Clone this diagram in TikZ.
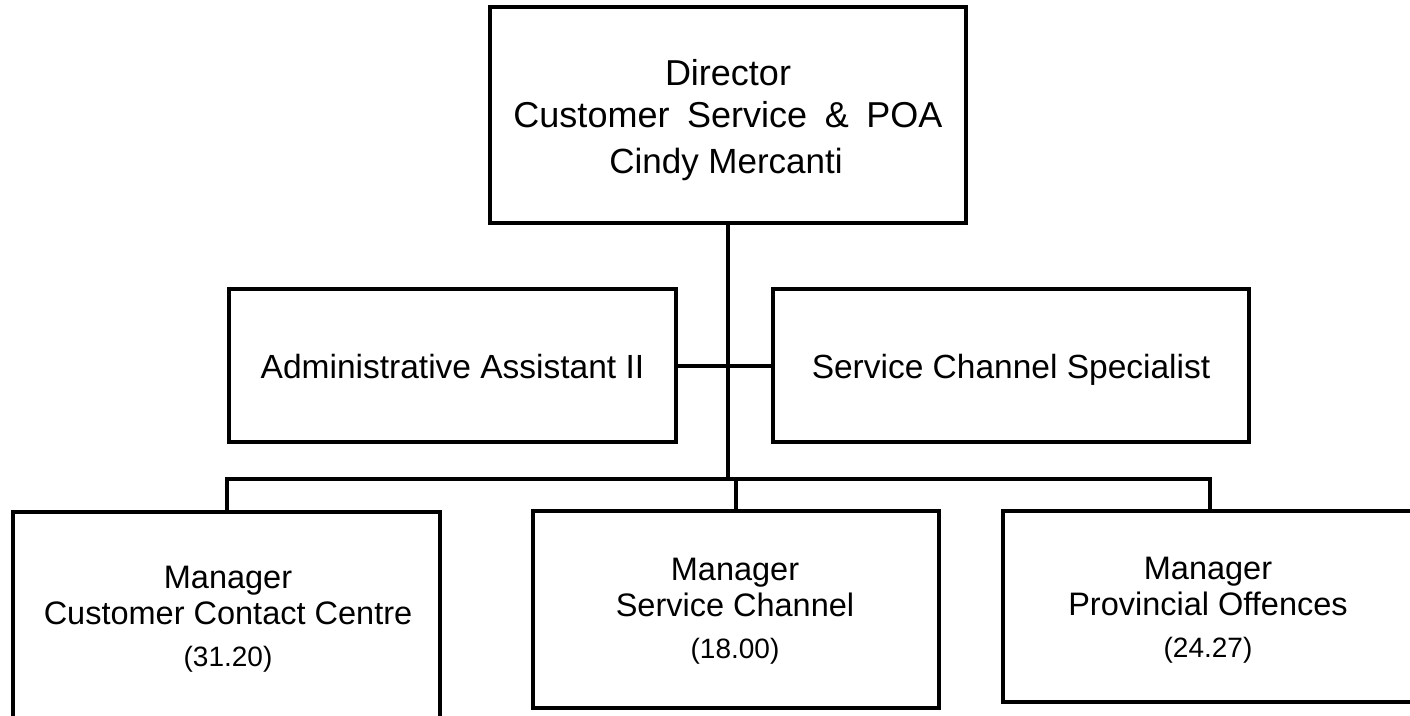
\documentclass[tikz,border=0pt]{standalone}
\usepackage{fontspec}
\setmainfont{Liberation Sans}
\begin{document}
\begin{tikzpicture}[x=1pt,y=-1pt,
  box/.style={draw=black,line width=4pt,rectangle,inner sep=0pt,fill=white},
  ln/.style={line width=4pt,draw=black},
  txt/.style={anchor=base,inner sep=0pt,font=\fontsize{32.5}{38}\selectfont},
  mtxt/.style={anchor=base,inner sep=0pt,font=\fontsize{33.5}{40}\selectfont},
  dtxt/.style={anchor=base,inner sep=0pt,font=\fontsize{36}{42}\selectfont},
  ctxt/.style={anchor=base,inner sep=0pt,font=\fontsize{35}{42}\selectfont},
  ptxt/.style={anchor=base,inner sep=0pt,font=\fontsize{28}{33}\selectfont}]
\useasboundingbox (0,0) rectangle (1410,715);
\clip (0,0) rectangle (1410,715);
% boxes
\node[box,minimum width=476pt,minimum height=216pt] (dir) at (728,115) {};
\node[box,minimum width=447pt,minimum height=153pt] (adm) at (452.5,365.5) {};
\node[box,minimum width=476pt,minimum height=153pt] (scs) at (1011,365.5) {};
\node[box,minimum width=427pt,minimum height=208pt] (m1) at (226.5,616) {};
\node[box,minimum width=406pt,minimum height=197pt] (m2) at (736,609.5) {};
\node[box,minimum width=413pt,minimum height=191pt] (m3) at (1209.5,606.5) {};
% junction
\coordinate (j2) at (728,479);
% connectors
\draw[ln] (dir.south) -- (j2);
\draw[ln] (adm.east) -- (scs.west);
\draw[ln] (m1.north) |- (j2) -| (m3.north);
\draw[ln] (m2.north) -- (m2.north |- j2);
% texts
\node[dtxt] (d1) at (728,85) {Director};
\node[dtxt] (d2) at (728,127) {Customer\hspace{0.49em}Service\hspace{0.49em}\&\hspace{0.49em}POA};
\node[ctxt] (d3) at (726,173) {Cindy Mercanti};
\node[mtxt] (a1) at (452.5,378) {Administrative Assistant II};
\node[mtxt] (s1) at (1011,378) {Service Channel Specialist};
\node[txt] (p1) at (228,588) {Manager};
\node[txt] (p2) at (228,624) {Customer Contact Centre};
\node[ptxt] (p3) at (228,666) {(31.20)};
\node[txt] (q1) at (735,580) {Manager};
\node[txt] (q2) at (735,616) {Service Channel};
\node[ptxt] (q3) at (735,658) {(18.00)};
\node[txt] (r1) at (1208,579) {Manager};
\node[txt] (r2) at (1208,615) {Provincial Offences};
\node[ptxt] (r3) at (1208,657) {(24.27)};
\end{tikzpicture}
\end{document}
